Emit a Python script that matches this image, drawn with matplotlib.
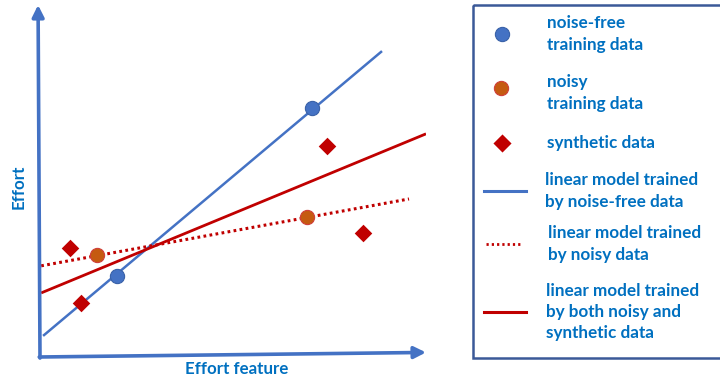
import matplotlib.pyplot as plt
from matplotlib.patches import Rectangle
from matplotlib.lines import Line2D

# data space: effort feature (x) vs effort (y), both 0..10
clean_x = [1.99, 7.05]
clean_y = [2.30, 7.07]
noisy_x = [1.48, 6.92]
noisy_y = [2.90, 3.98]
synth_x = [0.78, 1.06, 7.44, 8.37]
synth_y = [3.10, 1.53, 5.99, 3.52]

# end points of the three fitted lines
clean_fit_x = [0.08, 8.86]
clean_fit_y = [0.60, 8.69]
noisy_fit_x = [0.03, 9.56]
noisy_fit_y = [2.59, 4.49]
both_fit_x = [0.03, 10.0]
both_fit_y = [1.82, 6.34]

legend_labels = [
    "noise-free\ntraining data",
    "noisy\ntraining data",
    "synthetic data",
    "linear model trained\nby noise-free data",
    "linear model trained\nby noisy data",
    "linear model trained\nby both noisy and\nsynthetic data",
]

BLUE = "#4472C4"
RED = "#C00000"
ORANGE = "#C55A11"
TXT = "#0070C0"
FONT = "Lato"

W, H = 720, 380
fig = plt.figure(figsize=(W / 100, H / 100), dpi=100)


def fig_rect(left, top, right, bottom):
    return [left / W, 1 - bottom / H, (right - left) / W, (bottom - top) / H]


ax = fig.add_axes(fig_rect(40, 5, 426, 357))
ax.set_xlim(0, 10)
ax.set_ylim(0, 10)
ax.axis("off")

# axis arrows
arrow = dict(arrowstyle="-|>,head_length=0.7,head_width=0.35", color=BLUE,
             lw=2.6, shrinkA=0, shrinkB=0)
ax.annotate("", xy=(-0.05, 10.0), xytext=(0.0, -0.03), arrowprops=arrow,
            annotation_clip=False)
ax.annotate("", xy=(10.0, 0.13), xytext=(-0.02, 0.0), arrowprops=arrow,
            annotation_clip=False)

ax.plot(clean_fit_x, clean_fit_y, color=BLUE, lw=1.8, solid_capstyle="butt")
ax.plot(both_fit_x, both_fit_y, color=RED, lw=2.0, solid_capstyle="butt")
ax.plot(noisy_fit_x, noisy_fit_y, color=RED, lw=2.2, linestyle=(0, (0.9, 1.1)))

ax.scatter(clean_x, clean_y, s=105, color=BLUE, edgecolor="#3A62A8",
           lw=0.8, zorder=5)
ax.scatter(noisy_x, noisy_y, s=105, color=ORANGE, edgecolor="#D0403A",
           lw=0.8, zorder=5)
ax.scatter(synth_x, synth_y, s=80, marker="D", color=RED, lw=0, zorder=5)

fig.text(19 / W, 1 - 187 / H, "Effort", rotation=90, ha="center", va="center",
         color=TXT, fontsize=12.2, fontweight="bold", family=FONT)
fig.text(237 / W, 1 - 369 / H, "Effort feature", ha="center", va="center",
         color=TXT, fontsize=12.2, fontweight="bold", family=FONT)

# legend panel drawn in pixel units
lg = fig.add_axes([0, 0, 1, 1])
lg.set_xlim(0, W)
lg.set_ylim(H, 0)
lg.axis("off")
lg.add_patch(Rectangle((473, 5), 260, 353, fill=False, edgecolor="#3B5998",
                       lw=1.8, clip_on=False))

entry_y = [34, 93, 143, 191, 244, 312]
text_x = [547, 547, 547, 545, 548, 546]
lg.scatter([502], [entry_y[0]], s=105, color=BLUE, edgecolor="#3A62A8", lw=0.8)
lg.scatter([501], [entry_y[1] - 5], s=105, color=ORANGE, edgecolor="#D0403A", lw=0.8)
lg.scatter([502], [entry_y[2]], s=85, marker="D", color=RED, lw=0)
lg.add_line(Line2D([484, 526], [entry_y[3], entry_y[3]], color=BLUE, lw=2.2))
lg.add_line(Line2D([486, 520], [entry_y[4], entry_y[4]], color=RED, lw=2.0,
                   linestyle=(0, (0.8, 1.1))))
lg.add_line(Line2D([484, 526], [entry_y[5], entry_y[5]], color=RED, lw=2.2))

for lab, y, x in zip(legend_labels, entry_y, text_x):
    lg.text(x, y, lab, ha="left", va="center", color=TXT, fontsize=12.3,
            fontweight="bold", family=FONT, linespacing=1.4)

fig.savefig("out.png", dpi=100)
